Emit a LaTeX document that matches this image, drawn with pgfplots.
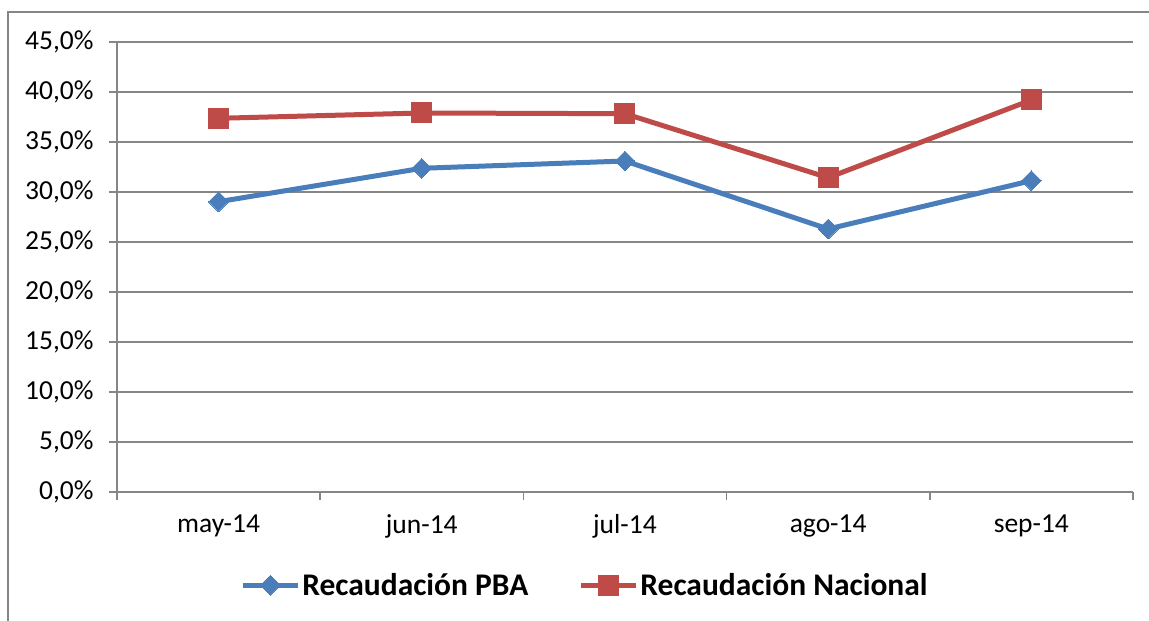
\documentclass[border=0pt]{standalone}
\usepackage{fontspec}
\setmainfont{Carlito}
\usepackage{pgfplots}
\pgfplotsset{compat=1.18}
\definecolor{pba}{HTML}{4A7EBB}
\definecolor{nac}{HTML}{BE4B48}
\definecolor{gridc}{HTML}{868686}
\begin{document}
\begin{tikzpicture}
\useasboundingbox (0,0) rectangle (1149pt,621pt);
\draw[gridc, line width=1.5pt] (8pt,0pt) -- (8pt,609pt) -- (1149pt,609pt);
\begin{axis}[
  at={(117pt,129pt)}, anchor=south west, scale only axis,
  width=1016pt, height=450pt,
  xmin=-0.5, xmax=4.5, ymin=0, ymax=45,
  ytick={0,5,...,45},
  xtick={-0.5,0.5,1.5,2.5,3.5,4.5},
  x tick label as interval,
  xticklabels={may-14,jun-14,jul-14,ago-14,sep-14},
  axis lines=left,
  axis line style={-, gridc, line width=1.5pt},
  tick align=outside, major tick length=8pt,
  tick style={gridc, line width=1.5pt},
  ymajorgrids, grid style={gridc, line width=1.5pt},
  /pgf/number format/assume math mode=true,
  yticklabel={\pgfmathprintnumber[fixed,fixed zerofill,precision=1,use comma]{\tick}\%},
  ticklabel style={font=\fontsize{27.5}{32}\selectfont, text=black},
  yticklabel style={xshift=-12pt},
  xticklabel style={yshift=-11pt},
  legend style={at={(0.4606,-0.207)}, anchor=center, draw=none, fill=none,
    legend columns=2, font=\bfseries\fontsize{31.5}{38}\selectfont,
    /tikz/every even column/.append style={column sep=48pt}},
  legend image code/.code={\draw[#1, mark repeat=2, mark phase=2] plot coordinates {(0pt,0pt) (27.5pt,0pt) (55pt,0pt)};},
  clip=false,
]
\addplot[pba, line width=5pt, mark=square*, mark size=7pt, mark options={rotate=45, solid, line width=0pt, fill=pba}]
  coordinates {(0,29.03) (1,32.37) (2,33.1) (3,26.3) (4,31.13)};
\addlegendentry{Recaudación PBA}
\addplot[nac, line width=5pt, mark=square*, mark size=10pt, mark options={solid, line width=0pt, fill=nac}]
  coordinates {(0,37.37) (1,37.9) (2,37.83) (3,31.43) (4,39.2)};
\addlegendentry{Recaudación Nacional}
\end{axis}
\end{tikzpicture}
\end{document}
